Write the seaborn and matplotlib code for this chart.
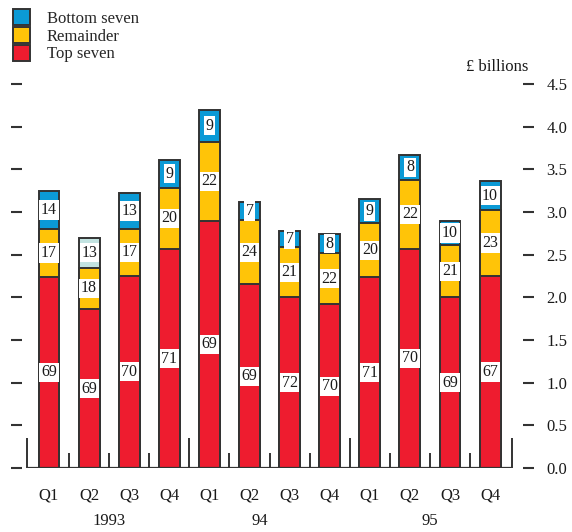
import numpy as np
import pandas as pd
import matplotlib
matplotlib.use("Agg")
import matplotlib.pyplot as plt
import seaborn as sns
from matplotlib.patches import Patch

# Quarterly totals (£ billions) and shares (%) of each group
quarters = ["Q1", "Q2", "Q3", "Q4"] * 3
periods = [f"{y} {q}" for y in ("1993", "1994", "1995") for q in ("Q1", "Q2", "Q3", "Q4")]
totals = [3.25, 2.70, 3.22, 3.61, 4.20, 3.12, 2.78, 2.74, 3.15, 3.67, 2.90, 3.36]
top_seven = [69, 69, 70, 71, 69, 69, 72, 70, 71, 70, 69, 67]
remainder = [17, 18, 17, 20, 22, 24, 21, 22, 20, 22, 21, 23]
bottom_seven = [14, 13, 13, 9, 9, 7, 7, 8, 9, 8, 10, 10]
year_labels = ["1993", "94", "95"]
year_label_pos = [1.5, 5.25, 9.5]
yticks = [0.0, 0.5, 1.0, 1.5, 2.0, 2.5, 3.0, 3.5, 4.0, 4.5]

C_BLUE = "#0b9ad6"
C_YELLOW = "#ffc408"
C_RED = "#ee1c2f"
C_PALE = "#c2e3e1"
EDGE = "#333333"
TXT = "#1a1a1a"
FS = 12

df = pd.DataFrame({
    "period": periods,
    "total": totals,
    "top": top_seven,
    "rem": remainder,
    "bot": bottom_seven,
})
df["top_val"] = df["total"] * df["top"] / 100
df["rem_cum"] = df["total"] * (df["top"] + df["rem"]) / 100

sns.set_theme(style="white")
plt.rcParams["font.family"] = ["Liberation Serif", "DejaVu Serif"]

fig = plt.figure(figsize=(5.72, 5.32), dpi=100)
ax = fig.add_axes([22 / 572, (532 - 468) / 532, (523 - 22) / 572, (468 - 84) / 532])

bar_kw = dict(width=0.52, edgecolor=EDGE, linewidth=1.4, order=periods, ax=ax)
# Stack by overdrawing cumulative heights
sns.barplot(data=df, x="period", y="total", color=C_BLUE, saturation=1, **bar_kw)
sns.barplot(data=df, x="period", y="rem_cum", color=C_YELLOW, saturation=1, **bar_kw)
sns.barplot(data=df, x="period", y="top_val", color=C_RED, saturation=1, **bar_kw)

# Q2 1993 bottom-seven segment is shaded pale
ax.patches[1].set_facecolor(C_PALE)

# Percentage labels in white boxes
box = dict(boxstyle="square,pad=0.1", facecolor="white", edgecolor="none")
for i, row in df.iterrows():
    mids = [
        (row["top_val"] / 2, row["top"]),
        ((row["top_val"] + row["rem_cum"]) / 2, row["rem"]),
        ((row["rem_cum"] + row["total"]) / 2, row["bot"]),
    ]
    for y, v in mids:
        ax.text(i, y, f"{v}", ha="center", va="center", fontsize=11.5,
                color=TXT, bbox=box, zorder=5)

# Baseline and separators between quarters / years
ax.hlines(0, -0.55, 11.55, color=EDGE, linewidth=1.6, zorder=6)
ax.vlines([-0.55, 3.5, 7.5, 11.55], 0, 0.35, color=EDGE, linewidth=1.4)
ax.vlines([0.5, 1.5, 2.5, 4.5, 5.5, 6.5, 8.5, 9.5, 10.5], 0, 0.17,
          color=EDGE, linewidth=1.4)

ax.set_xlim(-0.673, 11.82)
ax.set_ylim(0, 4.5)
for s in ax.spines.values():
    s.set_visible(False)

ax.set_yticks(yticks)
ax.set_yticklabels([f"{t:.1f}" for t in yticks])
ax.tick_params(axis="y", which="both", left=True, right=True, labelleft=False,
               labelright=True, length=8, width=1.5, color=EDGE, pad=9,
               labelsize=FS, labelcolor=TXT, direction="out")
ax.set_xticks(range(12))
ax.set_xticklabels(quarters)
ax.tick_params(axis="x", length=0, pad=14, labelsize=FS, labelcolor=TXT)
ax.set_xlabel("")
ax.set_ylabel("")

for lbl, xp in zip(year_labels, year_label_pos):
    ax.annotate(lbl, xy=(xp, 0), xycoords=("data", "axes fraction"),
                xytext=(0, -53), textcoords="offset pixels",
                ha="center", va="center", fontsize=FS, color=TXT)

ax.text(1.01, 1.044, "£ billions", transform=ax.transAxes, ha="right",
        va="center", fontsize=FS, color=TXT)

handles = [
    Patch(facecolor=C_BLUE, edgecolor=EDGE, linewidth=1.4, label="Bottom seven"),
    Patch(facecolor=C_YELLOW, edgecolor=EDGE, linewidth=1.4, label="Remainder"),
    Patch(facecolor=C_RED, edgecolor=EDGE, linewidth=1.4, label="Top seven"),
]
fig.legend(handles=handles, loc="upper left", bbox_to_anchor=(10 / 572, 1 - 6 / 532),
           frameon=False, fontsize=FS, handlelength=1.0, handleheight=1.1,
           labelspacing=0.0, handletextpad=1.0, borderaxespad=0, borderpad=0.2)

fig.savefig("out.png", dpi=100)
